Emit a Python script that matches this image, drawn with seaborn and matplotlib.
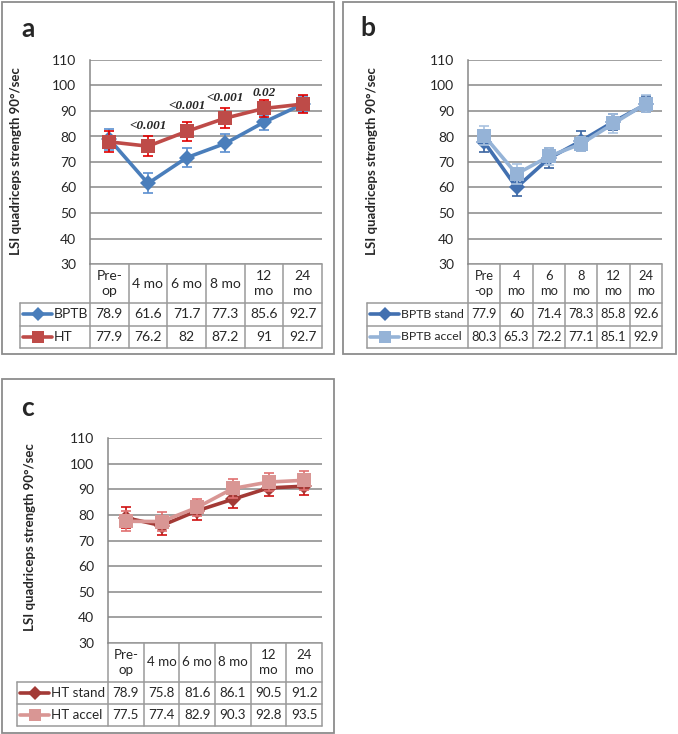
import matplotlib.pyplot as plt
import matplotlib.transforms as mtransforms
from matplotlib.lines import Line2D
from matplotlib.patches import Rectangle
import numpy as np
import seaborn as sns

sns.set_style("white")
plt.rcParams["font.family"] = ["Lato", "DejaVu Sans"]

W, H = 678, 734

timepoints = ["Pre-op", "4 mo", "6 mo", "8 mo", "12 mo", "24 mo"]
heads_ac = ["Pre-\nop", "4 mo", "6 mo", "8 mo", "12\nmo", "24\nmo"]
heads_b = ["Pre\n-op", "4\nmo", "6\nmo", "8\nmo", "12\nmo", "24\nmo"]

# panel a
bptb = [78.9, 61.6, 71.7, 77.3, 85.6, 92.7]
bptb_err = [4.0, 3.9, 3.7, 3.5, 3.0, 3.0]
ht = [77.9, 76.2, 82, 87.2, 91, 92.7]
ht_err = [4.1, 3.9, 3.8, 4.0, 3.5, 3.5]
pvals = ["", "<0.001", "<0.001", "<0.001", "0.02", ""]

# panel b
bptb_stand = [77.9, 60, 71.4, 78.3, 85.8, 92.6]
bptb_stand_err = [3.8, 3.2, 3.9, 3.9, 3.2, 3.1]
bptb_accel = [80.3, 65.3, 72.2, 77.1, 85.1, 92.9]
bptb_accel_err = [3.8, 3.8, 3.4, 2.6, 3.6, 3.2]

# panel c
ht_stand = [78.9, 75.8, 81.6, 86.1, 90.5, 91.2]
ht_stand_err = [4.0, 3.7, 3.7, 3.5, 3.2, 3.3]
ht_accel = [77.5, 77.4, 82.9, 90.3, 92.8, 93.5]
ht_accel_err = [3.9, 3.6, 3.3, 3.7, 3.6, 3.8]

GRID = "#878787"
TABLE = "#9a9a9a"

fig = plt.figure(figsize=(W / 100, H / 100), dpi=100)
x = np.arange(len(timepoints))


def fy(py):
    return 1 - py / H


def draw_panel(box, rect, letter, letter_xy, ylab_xy, heads, series, left_px, head_h, row_h,
               cell_fs=10, name_fs=10):
    fig.patches.append(Rectangle((box[0] / W, fy(box[3])), (box[2] - box[0]) / W,
                                 (box[3] - box[1]) / H, transform=fig.transFigure,
                                 fill=False, ec="#8c8c8c", lw=1.3))
    l, t, r, b = rect
    ax = fig.add_axes([l / W, fy(b), (r - l) / W, (b - t) / H])
    for s in series:
        ax.errorbar(x, s["y"], yerr=s["err"], fmt="none", ecolor=s["ecolor"],
                    elinewidth=1.2, capsize=3.5, capthick=1.2, zorder=s["z"])
        sns.lineplot(x=x, y=s["y"], ax=ax, color=s["color"], lw=2.6, marker=s["marker"],
                     ms=s["ms"], mec=s["color"], mew=0, zorder=s["z"] + 0.5)
    ax.set_xlim(-0.5, 5.5)
    ax.set_ylim(30, 110)
    ax.set_yticks(range(30, 111, 10))
    ax.set_xticks([])
    ax.grid(axis="y", color=GRID, lw=1.1)
    ax.set_axisbelow(True)
    for sp in ["top", "right", "bottom"]:
        ax.spines[sp].set_visible(False)
    ax.spines["left"].set_color(GRID)
    ax.spines["left"].set_linewidth(1.1)
    ax.tick_params(axis="y", length=0, pad=10, labelsize=10)
    ax.set_ylabel("")

    fig.text(letter_xy[0] / W, fy(letter_xy[1]), letter, fontsize=19, fontweight="bold",
             ha="center", va="center")
    fig.text(ylab_xy[0] / W, fy(ylab_xy[1]), "LSI quadriceps strength 90°/sec",
             rotation=90, fontsize=9.5, fontweight="bold", ha="center", va="center")

    # data table under the plot
    trans = mtransforms.blended_transform_factory(ax.transData, fig.transFigure)
    t0 = b
    t1 = t0 + head_h
    t2 = t1 + row_h
    t3 = t2 + row_h
    xl = -0.5 + (left_px - l) / (r - l) * 6
    kw = dict(transform=trans, color=TABLE, lw=1.1, clip_on=False)
    ax.add_line(Line2D([-0.5, 5.5], [fy(t0), fy(t0)], **kw))
    for yy in (t1, t2, t3):
        ax.add_line(Line2D([xl, 5.5], [fy(yy), fy(yy)], **kw))
    for i in range(7):
        ax.add_line(Line2D([i - 0.5, i - 0.5], [fy(t0), fy(t3)], **kw))
    ax.add_line(Line2D([xl, xl], [fy(t1), fy(t3)], **kw))
    for i, h in enumerate(heads):
        ax.text(i, fy((t0 + t1) / 2), h, transform=trans, ha="center", va="center",
                fontsize=cell_fs, linespacing=1.25)
    for k, s in enumerate(sorted(series, key=lambda s: s["row"])):
        ym = fy(t1 + row_h * (k + 0.5))
        for i, v in enumerate(s["y"]):
            ax.text(i, ym, f"{v:g}", transform=trans, ha="center", va="center",
                    fontsize=cell_fs)
        fig.lines.append(Line2D([(left_px + 3) / W, (left_px + 18) / W, (left_px + 32) / W],
                                [ym, ym, ym], transform=fig.transFigure, color=s["color"],
                                lw=2.6, marker=s["marker"], ms=s["ms"] * 0.85, mew=0,
                                markevery=[1]))
        fig.text((left_px + 34) / W, ym, s["name"], ha="left", va="center", fontsize=name_fs)
    return ax


ax_a = draw_panel(
    box=(2, 2, 334, 354), rect=(90, 60, 322, 264), letter="a", letter_xy=(28, 29),
    ylab_xy=(16, 161), heads=heads_ac, left_px=20, head_h=39, row_h=22.5,
    series=[
        dict(name="BPTB", y=bptb, err=bptb_err, color="#4a7ebb", ecolor="#5b8fd0",
             marker="D", ms=8.5, z=3, row=0),
        dict(name="HT", y=ht, err=ht_err, color="#be4b48", ecolor="#e00000",
             marker="s", ms=10, z=5, row=1),
    ])
pval_y = [0, 84, 91.8, 95.2, 97.2, 0]
for i, p in enumerate(pvals):
    if p:
        ax_a.text(i, pval_y[i], p, ha="center", va="center", fontsize=9.5,
                  fontweight="bold", fontstyle="italic", family="Liberation Serif")

draw_panel(
    box=(343, 2, 676, 354), rect=(468, 60, 662, 264), letter="b", letter_xy=(368, 28),
    ylab_xy=(372, 161), heads=heads_b, left_px=367, head_h=39, row_h=22.5,
    cell_fs=9.3, name_fs=8.8,
    series=[
        dict(name="BPTB stand", y=bptb_stand, err=bptb_stand_err, color="#4270b0",
             ecolor="#3a63a0", marker="D", ms=8.5, z=3, row=0),
        dict(name="BPTB accel", y=bptb_accel, err=bptb_accel_err, color="#95b3d7",
             ecolor="#a9c2e0", marker="s", ms=10, z=5, row=1),
    ])

draw_panel(
    box=(2, 379, 334, 733), rect=(108, 438, 322, 643), letter="c", letter_xy=(27, 408),
    ylab_xy=(30, 537), heads=heads_ac, left_px=17, head_h=39, row_h=22,
    cell_fs=9.6, name_fs=9.6,
    series=[
        dict(name="HT stand", y=ht_stand, err=ht_stand_err, color="#a33a36",
             ecolor="#d01010", marker="D", ms=8.5, z=3, row=0),
        dict(name="HT accel", y=ht_accel, err=ht_accel_err, color="#d99694",
             ecolor="#e07070", marker="s", ms=10, z=5, row=1),
    ])

fig.savefig("out.png", dpi=100)
